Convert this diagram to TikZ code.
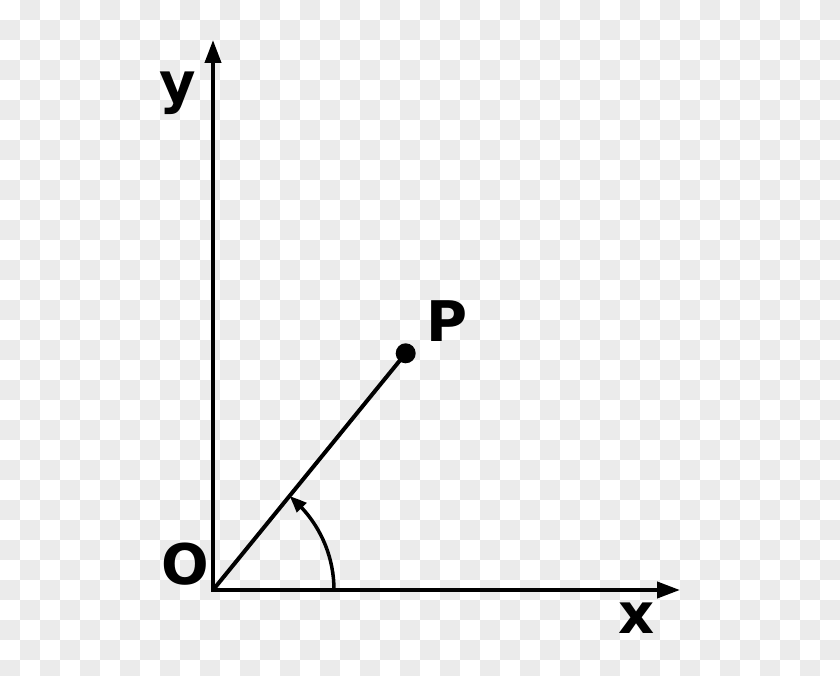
\documentclass[tikz,border=0pt]{standalone}
\usepackage{fontspec}
\setmainfont{DejaVu Sans}
\usetikzlibrary{arrows.meta,bending}
\definecolor{checkgray}{HTML}{EBEBEB}
\tikzset{
  axis/.style={line width=4pt, line join=miter, {Triangle[length=23pt,width=16pt]}-{Triangle[length=23pt,width=16pt]}},
  ray/.style={line width=4pt},
  anglearc/.style={line width=3.5pt, -{Triangle[length=17pt,width=13pt,bend]}},
  lbl/.style={font=\bfseries\fontsize{56}{60}\selectfont, inner sep=0pt, anchor=base},
  pdot/.style={circle, fill=black, inner sep=0pt, minimum size=20pt}
}
\begin{document}
\begin{tikzpicture}[x=1pt,y=1pt]
\useasboundingbox (0,0) rectangle (840,675);
\fill[white] (0,0) rectangle (840,675);
\foreach \i in {0,...,41} {
  \foreach \j in {0,...,33} {
    \pgfmathtruncatemacro{\s}{mod(\i+\j,2)}
    \ifnum\s=1
      \fill[checkgray] (20*\i,655-20*\j) rectangle (20*\i+20,675-20*\j);
    \fi
  }
}
\coordinate (O) at (213,85);
\coordinate (Ytip) at (213,635);
\coordinate (Xtip) at (680,85);
\coordinate (Astart) at (334,85);
\node[pdot] (P) at (405.7,321.7) {};
\draw[axis] (Ytip) -- (O) -- (Xtip);
\draw[ray] (O) -- (P.center);
\draw[anglearc] (Astart) arc[start angle=0, end angle=50.85, radius=121];
\node[lbl] (ylbl) at (178,572) {y};
\node[lbl] (olbl) at (185,91) {O};
\node[lbl] (plbl) at (447,333) {P};
\node[lbl] (xlbl) at (637,42) {x};
\end{tikzpicture}
\end{document}
